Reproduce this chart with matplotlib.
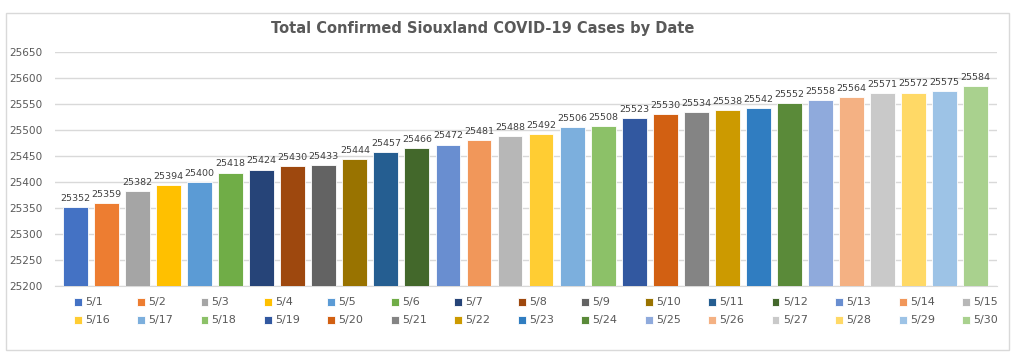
import matplotlib
matplotlib.use('agg')
import matplotlib.pyplot as plt
from matplotlib.patches import Rectangle

# data
dates = ['5/%d' % d for d in range(1, 31)]
cases = [25352, 25359, 25382, 25394, 25400, 25418, 25424, 25430, 25433, 25444,
         25457, 25466, 25472, 25481, 25488, 25492, 25506, 25508, 25523, 25530,
         25534, 25538, 25542, 25552, 25558, 25564, 25571, 25572, 25575, 25584]
yticks = [25200, 25250, 25300, 25350, 25400, 25450, 25500, 25550, 25600, 25650]

# office palette with its shade variants
colors = ['#4472C4', '#ED7D31', '#A5A5A5', '#FFC000', '#5B9BD5', '#70AD47',
          '#264478', '#9E480E', '#636363', '#997300', '#255E91', '#43682B',
          '#698ED0', '#F1975A', '#B7B7B7', '#FFCD33', '#7CAFDD', '#8CC168',
          '#3258A0', '#D26012', '#848484', '#CC9A00', '#307DC1', '#5A8A39',
          '#8FAADC', '#F4B183', '#C9C9C9', '#FFD966', '#9DC3E6', '#A9D18E']

plt.rcParams['font.family'] = ['DejaVu Sans']
W, H = 1024, 363
fig = plt.figure(figsize=(W / 100, H / 100), dpi=100)

# chart border
fig.patches.append(Rectangle((6 / W, 1 - 350 / H), 1003 / W, 337 / H, transform=fig.transFigure,
                             fill=False, edgecolor='#D9D9D9', linewidth=1))

ax = fig.add_axes([55 / W, 1 - 286 / H, 942 / W, 234 / H])
bars = ax.bar(range(len(cases)), cases, width=0.8, color=colors, edgecolor='white',
              linewidth=0.6, zorder=3)
for i, v in enumerate(cases):
    ax.annotate(str(v), (i, v), xytext=(0, 3), textcoords='offset points',
                ha='center', va='bottom', fontsize=6.8, color='#404040')

ax.set_ylim(25200, 25650)
ax.set_xlim(-0.66, len(cases) - 1 + 0.69)
ax.set_yticks(yticks)
ax.set_xticks([])
ax.tick_params(axis='y', length=0, labelsize=7.6, labelcolor='#595959', pad=9)
ax.grid(axis='y', color='#D9D9D9', linewidth=1, zorder=0)
for s in ['top', 'right', 'left']:
    ax.spines[s].set_visible(False)
ax.spines['bottom'].set_color('#D9D9D9')

fig.text(483 / W, 1 - 29 / H, 'Total Confirmed Siouxland COVID-19 Cases by Date', fontsize=10.5,
         fontweight='bold', color='#595959', ha='center', va='center')

# legend: row 1 = 5/1..5/15, row 2 = 5/16..5/30
order = []
for i in range(15):
    order += [i, i + 15]
leg = fig.legend([bars[i] for i in order], [dates[i] for i in order], ncol=15,
                 loc='center', bbox_to_anchor=(536 / W, 1 - 311.5 / H), frameon=False,
                 fontsize=8, handlelength=0.7, handleheight=0.7, handletextpad=0.3,
                 columnspacing=2.47, labelcolor='#595959', labelspacing=0.72,
                 borderpad=0, borderaxespad=0)

fig.savefig('out.png', dpi=100, facecolor='white')
